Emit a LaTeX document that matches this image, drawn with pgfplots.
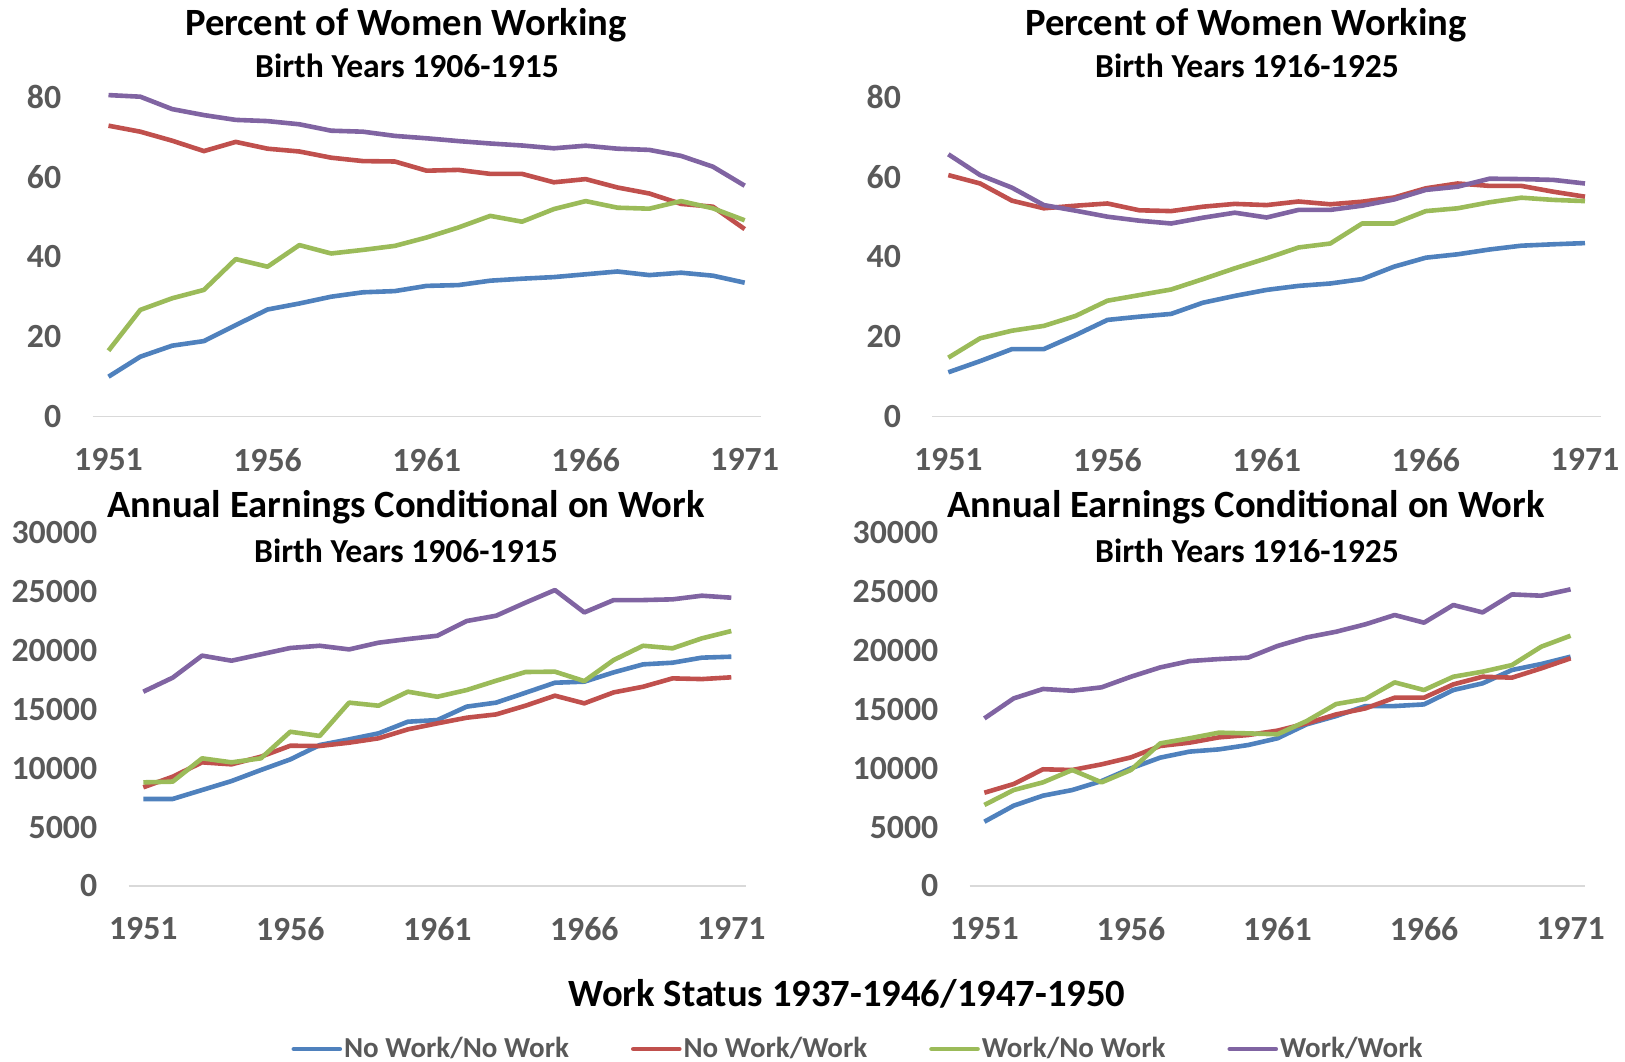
\documentclass[border=0pt]{standalone}
\usepackage{pgfplots}
\pgfplotsset{compat=1.18}
\usepackage{pgfplotstable}
\usepackage{fontspec}
\setmainfont{Carlito}
\definecolor{cblue}{HTML}{4F81BD}
\definecolor{cred}{HTML}{C0504D}
\definecolor{cgreen}{HTML}{9BBB59}
\definecolor{cpurple}{HTML}{8064A2}
\definecolor{tickgray}{HTML}{595959}
\definecolor{axisgray}{HTML}{D9D9D9}

\pgfplotstableread{
year nn nw wn ww
1951 10.0 72.75 16.5 80.4
1952 15.0 71.25 26.7 80.0
1953 17.75 69.0 29.6 76.9
1954 18.9 66.4 31.7 75.4
1955 22.9 68.7 39.4 74.2
1956 26.8 67.0 37.5 73.9
1957 28.3 66.3 42.9 73.1
1958 30.0 64.75 40.8 71.5
1959 31.1 63.9 41.7 71.25
1960 31.4 63.8 42.7 70.2
1961 32.7 61.5 44.8 69.6
1962 32.9 61.7 47.3 68.9
1963 34.0 60.7 50.2 68.3
1964 34.5 60.7 48.75 67.8
1965 34.9 58.6 51.9 67.1
1966 35.6 59.4 53.9 67.75
1967 36.3 57.3 52.25 67.0
1968 35.4 55.8 52.0 66.7
1969 36.0 53.2 53.9 65.2
1970 35.25 52.5 52.1 62.5
1971 33.5 46.9 49.1 57.75
}\pctA

\pgfplotstableread{
year nn nw wn ww
1951 11.1 60.4 14.75 65.6
1952 13.9 58.3 19.6 60.4
1953 16.9 54.0 21.5 57.25
1954 16.9 52.1 22.7 52.9
1955 20.4 52.75 25.2 51.5
1956 24.2 53.3 29.0 50.0
1957 25.0 51.6 30.4 49.0
1958 25.7 51.4 31.8 48.3
1959 28.5 52.5 34.4 49.75
1960 30.2 53.2 37.1 51.0
1961 31.7 52.9 39.6 49.8
1962 32.7 53.8 42.3 51.7
1963 33.3 53.1 43.3 51.7
1964 34.4 53.75 48.3 52.75
1965 37.5 54.8 48.3 54.3
1966 39.75 57.1 51.4 56.7
1967 40.6 58.3 52.1 57.5
1968 41.8 57.7 53.6 59.5
1969 42.75 57.7 54.75 59.4
1970 43.1 56.25 54.2 59.2
1971 43.4 55.0 53.9 58.3
}\pctB

\pgfplotstableread{
year nn nw wn ww
1951 7390 8380 8800 16500
1952 7390 9280 8860 17690
1953 8150 10500 10840 19560
1954 8910 10330 10500 19130
1955 9850 10980 10840 19670
1956 10750 11910 13100 20210
1957 11970 11890 12740 20400
1958 12450 12170 15570 20090
1959 12960 12540 15310 20660
1960 13950 13300 16500 20970
1961 14090 13810 16070 21250
1962 15230 14290 16640 22500
1963 15570 14570 17430 22950
1964 16410 15310 18170 24060
1965 17260 16160 18200 25130
1966 17350 15510 17400 23230
1967 18140 16440 19190 24280
1968 18820 16920 20400 24280
1969 18960 17630 20180 24340
1970 19390 17570 21030 24650
1971 19470 17720 21650 24480
}\earnA

\pgfplotstableread{
year nn nw wn ww
1951 5460 7920 6880 14230
1952 6820 8660 8150 15930
1953 7670 9910 8800 16730
1954 8150 9850 9850 16580
1955 8910 10330 8800 16870
1956 9990 10920 9850 17770
1957 10900 11890 12110 18560
1958 11410 12170 12540 19100
1959 11600 12620 13020 19270
1960 11970 12820 12960 19390
1961 12540 13190 12880 20380
1962 13730 13810 14010 21110
1963 14430 14570 15450 21590
1964 15280 15080 15880 22220
1965 15280 15990 17290 23010
1966 15420 15990 16640 22360
1967 16640 17120 17770 23860
1968 17210 17770 18200 23230
1969 18340 17690 18760 24760
1970 18850 18480 20320 24650
1971 19470 19330 21250 25190
}\earnB

\pgfplotsset{
  panel/.style={
    scale only axis,
    anchor=south west,
    axis line style={draw=none},
    major tick length=0pt,
    xmin=1950.5, xmax=1971.5,
    xtick={1951,1956,1961,1966,1971},
    ymin=0,
    clip=false,
    tick label style={font=\fontsize{16.9bp}{19bp}\selectfont\bfseries, text=tickgray, inner sep=0pt},
    /pgf/number format/assume math mode=true,
    /pgf/number format/1000 sep={},
    scaled y ticks=false,
    xticklabel shift=15.5bp,
    yticklabel shift=15.5bp,
    every axis plot/.append style={line width=2.3bp, line join=round, no markers},
  },
}
\tikzset{
  ttl/.style={anchor=base, font=\fontsize{19.3bp}{22bp}\selectfont\bfseries},
  sub/.style={anchor=base, font=\fontsize{16.8bp}{19bp}\selectfont\bfseries},
}

\begin{document}
\begin{tikzpicture}
\path[use as bounding box] (0,0) rectangle (812.5bp,531bp);

% Top-left
\begin{axis}[panel, at={(46.3bp,322.65bp)}, width=334bp, height=160bp, ymax=80, ytick={0,20,...,80}]
\draw[axisgray, line width=0.7bp] (rel axis cs:0,0) -- (rel axis cs:1,0);
\addplot[cblue] table[x=year,y=nn] {\pctA};
\addplot[cred] table[x=year,y=nw] {\pctA};
\addplot[cgreen] table[x=year,y=wn] {\pctA};
\addplot[cpurple] table[x=year,y=ww] {\pctA};
\end{axis}

% Top-right
\begin{axis}[panel, at={(466.2bp,322.65bp)}, width=334.25bp, height=160bp, ymax=80, ytick={0,20,...,80}]
\draw[axisgray, line width=0.7bp] (rel axis cs:0,0) -- (rel axis cs:1,0);
\addplot[cblue] table[x=year,y=nn] {\pctB};
\addplot[cred] table[x=year,y=nw] {\pctB};
\addplot[cgreen] table[x=year,y=wn] {\pctB};
\addplot[cpurple] table[x=year,y=ww] {\pctB};
\end{axis}

% Bottom-left
\begin{axis}[panel, at={(64.3bp,88bp)}, width=308.7bp, height=176.65bp, ymax=30000, ytick={0,5000,...,30000},
  legend columns=4,
  legend image code/.code={\draw[#1, line width=2.3bp, line cap=round] (0bp,0bp) -- (23bp,0bp);},
  legend style={at={(1.1814,-0.4614)}, anchor=center, draw=none, fill=none,
    font=\fontsize{14.5bp}{16bp}\selectfont\bfseries, text=tickgray,
    nodes={inner sep=1bp},
    /tikz/every even column/.append style={column sep=30bp}}]
\draw[axisgray, line width=0.7bp] (rel axis cs:0,0) -- (rel axis cs:1,0);
\addplot[cblue] table[x=year,y=nn] {\earnA};
\addlegendentry{No Work/No Work}
\addplot[cred] table[x=year,y=nw] {\earnA};
\addlegendentry{No Work/Work}
\addplot[cgreen] table[x=year,y=wn] {\earnA};
\addlegendentry{Work/No Work}
\addplot[cpurple] table[x=year,y=ww] {\earnA};
\addlegendentry{Work/Work}
\end{axis}

% Bottom-right
\begin{axis}[panel, at={(484.85bp,88bp)}, width=307.75bp, height=176.65bp, ymax=30000, ytick={0,5000,...,30000}]
\draw[axisgray, line width=0.7bp] (rel axis cs:0,0) -- (rel axis cs:1,0);
\addplot[cblue] table[x=year,y=nn] {\earnB};
\addplot[cred] table[x=year,y=nw] {\earnB};
\addplot[cgreen] table[x=year,y=wn] {\earnB};
\addplot[cpurple] table[x=year,y=ww] {\earnB};
\end{axis}

% Titles
\node[ttl] at (203bp,513bp) {Percent of Women Working};
\node[sub] at (203.5bp,492bp) {Birth Years 1906-1915};
\node[ttl] at (623bp,513bp) {Percent of Women Working};
\node[sub] at (623.5bp,492bp) {Birth Years 1916-1925};
\node[ttl] at (203bp,272bp) {Annual Earnings Conditional on Work};
\node[sub] at (203bp,249.5bp) {Birth Years 1906-1915};
\node[ttl] at (623bp,272bp) {Annual Earnings Conditional on Work};
\node[sub] at (623.5bp,249.5bp) {Birth Years 1916-1925};
\node[anchor=base, font=\fontsize{19.3bp}{22bp}\selectfont\bfseries] at (423.5bp,28bp) {Work Status 1937-1946/1947-1950};
\end{tikzpicture}
\end{document}
